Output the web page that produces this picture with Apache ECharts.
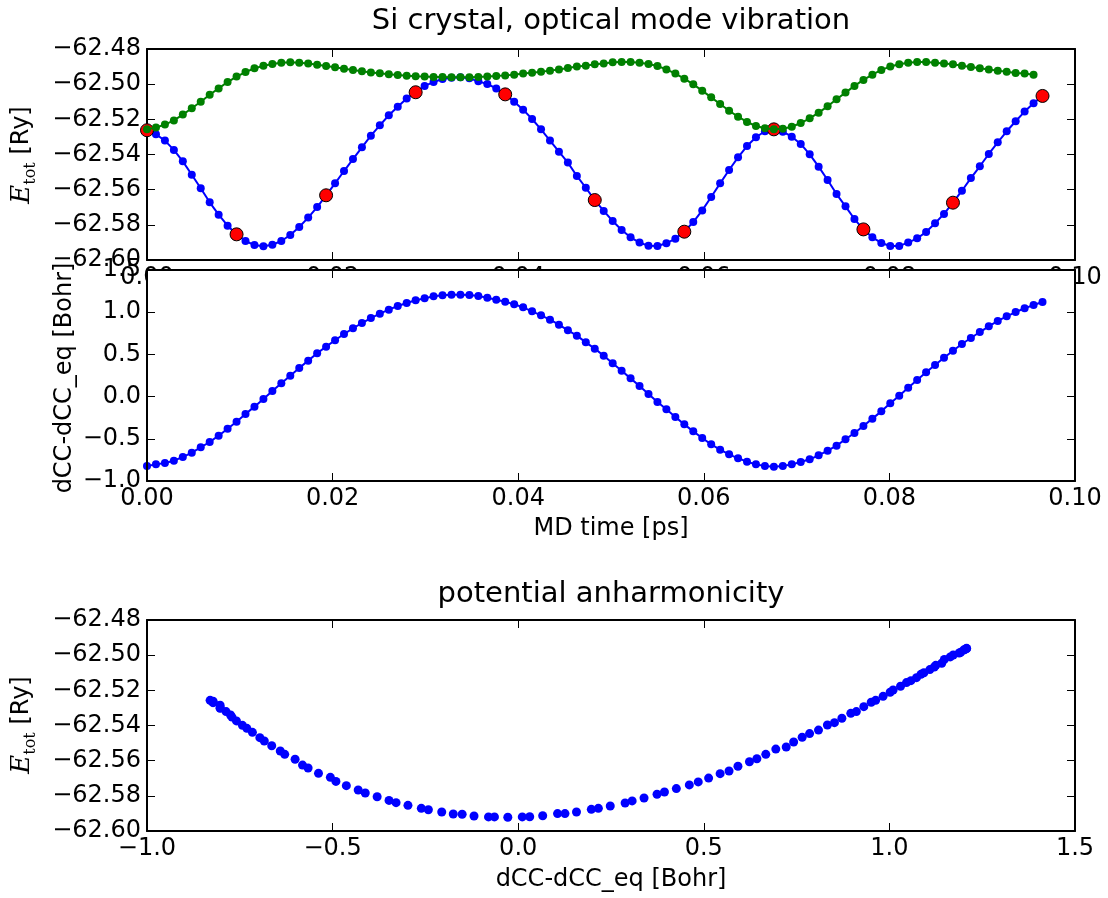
<!DOCTYPE html>
<html>
<head>
<meta charset="utf-8">
<script src="https://cdn.jsdelivr.net/npm/echarts@6/dist/echarts.min.js"></script>
<style>
html,body{margin:0;padding:0;background:#fff;}
#chart{width:1108px;height:898px;}
</style>
</head>
<body>
<div id="chart"></div>
<script>
// MD time [ps], one entry per MD step
const time = [0,0.000965,0.00193,0.002895,0.00386,0.004825,0.00579,0.006755,0.00772,0.008685,
0.00965,0.010615,0.01158,0.012545,0.01351,0.014475,0.01544,0.016405,0.01737,0.018335,
0.0193,0.020265,0.02123,0.022195,0.02316,0.024125,0.02509,0.026055,0.02702,0.027985,
0.02895,0.029915,0.03088,0.031845,0.03281,0.033775,0.03474,0.035705,0.03667,0.037635,
0.0386,0.039565,0.04053,0.041495,0.04246,0.043425,0.04439,0.045355,0.04632,0.047285,
0.04825,0.049215,0.05018,0.051145,0.05211,0.053075,0.05404,0.055005,0.05597,0.056935,
0.0579,0.058865,0.05983,0.060795,0.06176,0.062725,0.06369,0.064655,0.06562,0.066585,
0.06755,0.068515,0.06948,0.070445,0.07141,0.072375,0.07334,0.074305,0.07527,0.076235,
0.0772,0.078165,0.07913,0.080095,0.08106,0.082025,0.08299,0.083955,0.08492,0.085885,
0.08685,0.087815,0.08878,0.089745,0.09071,0.091675,0.09264,0.093605,0.09457,0.095535,
0.0965];

// E_tot (blue) [Ry]
const etotBlue = [-62.5262,-62.5285,-62.5321,-62.5374,-62.5439,-62.5515,-62.5592,-62.5672,-62.5742,-62.5805,
-62.5854,-62.5892,-62.5915,-62.5922,-62.5913,-62.5892,-62.5858,-62.5812,-62.5759,-62.5699,
-62.5632,-62.5564,-62.5494,-62.5426,-62.5359,-62.5293,-62.5234,-62.5177,-62.5128,-62.5082,
-62.5046,-62.5010,-62.4988,-62.4971,-62.4963,-62.4961,-62.4967,-62.4984,-62.4999,-62.5024,
-62.5058,-62.5100,-62.5145,-62.5198,-62.5257,-62.5321,-62.5384,-62.5446,-62.5522,-62.5589,
-62.5659,-62.5721,-62.5778,-62.5829,-62.5871,-62.5901,-62.5919,-62.5920,-62.5905,-62.5879,
-62.5839,-62.5784,-62.5718,-62.5642,-62.5564,-62.5488,-62.5416,-62.5352,-62.5302,-62.5268,
-62.5257,-62.5270,-62.5299,-62.5340,-62.5399,-62.5469,-62.5545,-62.5625,-62.5695,-62.5767,
-62.5826,-62.5871,-62.5903,-62.5920,-62.5920,-62.5901,-62.5877,-62.5841,-62.5791,-62.5738,
-62.5674,-62.5606,-62.5534,-62.5467,-62.5397,-62.5331,-62.5268,-62.5211,-62.5156,-62.5109,
-62.5067];

// second energy curve (green) [Ry]
const etotGreen = [-62.5257,-62.5246,-62.5230,-62.5206,-62.5173,-62.5137,-62.5100,-62.5060,-62.5024,-62.4988,
-62.4957,-62.4931,-62.4910,-62.4895,-62.4885,-62.4878,-62.4876,-62.4878,-62.4883,-62.4889,
-62.4897,-62.4904,-62.4912,-62.4919,-62.4927,-62.4933,-62.4938,-62.4944,-62.4948,-62.4952,
-62.4955,-62.4957,-62.4959,-62.4959,-62.4961,-62.4961,-62.4961,-62.4959,-62.4957,-62.4954,
-62.4950,-62.4946,-62.4940,-62.4935,-62.4929,-62.4923,-62.4916,-62.4908,-62.4900,-62.4895,
-62.4887,-62.4882,-62.4876,-62.4874,-62.4874,-62.4878,-62.4885,-62.4897,-62.4916,-62.4940,
-62.4969,-62.5001,-62.5037,-62.5075,-62.5113,-62.5151,-62.5185,-62.5215,-62.5238,-62.5251,
-62.5257,-62.5253,-62.5242,-62.5221,-62.5194,-62.5162,-62.5126,-62.5086,-62.5048,-62.5010,
-62.4976,-62.4946,-62.4919,-62.4900,-62.4887,-62.4878,-62.4874,-62.4874,-62.4878,-62.4882,
-62.4887,-62.4895,-62.4902,-62.4910,-62.4916,-62.4923,-62.4929,-62.4936,-62.4940,-62.4946];

// dCC - dCC_eq [Bohr]
const dcc = [-0.822,-0.803,-0.787,-0.759,-0.716,-0.664,-0.601,-0.538,-0.463,-0.380,
-0.297,-0.206,-0.119,-0.028,0.066,0.157,0.248,0.339,0.426,0.513,
0.592,0.667,0.742,0.809,0.872,0.931,0.983,1.030,1.073,1.109,
1.141,1.164,1.188,1.200,1.208,1.208,1.204,1.192,1.172,1.148,
1.125,1.093,1.058,1.010,0.963,0.911,0.852,0.785,0.722,0.643,
0.568,0.485,0.394,0.307,0.216,0.126,0.031,-0.064,-0.151,-0.242,
-0.329,-0.412,-0.491,-0.566,-0.629,-0.684,-0.731,-0.771,-0.803,-0.822,
-0.830,-0.822,-0.803,-0.775,-0.743,-0.696,-0.641,-0.581,-0.506,-0.431,
-0.348,-0.261,-0.175,-0.080,0.011,0.106,0.197,0.288,0.374,0.461,
0.544,0.623,0.694,0.765,0.833,0.896,0.951,1.002,1.046,1.085,
1.121];

// every 10th step is highlighted in red
const markEvery = 10;

// axis tick settings
const timeTicks = {min: 0, max: 0.1, interval: 0.02};
const energyTicks = {min: -62.6, max: -62.48, interval: 0.02};
const dccTicks = {min: -1.0, max: 1.5, interval: 0.5};

const FONT = "'DejaVu Sans', sans-serif";
const TICK_FS = 24;
const LABEL_FS = 24;
const TITLE_FS = 29;
const fmt = d => v => {
  let s = Math.abs(v) < 1e-9 ? (0).toFixed(d) : v.toFixed(d);
  return s.replace('-', '\u2212');
};

const chart = echarts.init(document.getElementById('chart'), null, {renderer: 'canvas'});

const grids = [
  {left: 147, right: 33, top: 49, height: 211},
  {left: 147, right: 33, top: 270, height: 211},
  {left: 147, right: 33, top: 620, height: 211}
].map(g => Object.assign({containLabel: false, outerBoundsMode: 'none', show: false}, g));

const lineCol = '#000';
function mkAxis(ticks, grid, pos, showLabel, decimals, z) {
  return Object.assign({
    type: 'value',
    gridIndex: grid,
    position: pos,
    z: z,
    scale: true,
    axisLine: {show: true, onZero: false, lineStyle: {color: lineCol, width: 2}},
    axisTick: {show: true, inside: true, length: 8, lineStyle: {color: lineCol, width: 1}},
    splitLine: {show: false},
    axisLabel: {
      show: showLabel,
      color: '#000',
      fontFamily: FONT,
      fontSize: TICK_FS,
      margin: 6,
      showMinLabel: true,
      showMaxLabel: true,
      hideOverlap: false,
      formatter: fmt(decimals)
    }
  }, ticks);
}

const xAxes = [
  mkAxis(timeTicks, 0, 'bottom', true, 2, 0),
  mkAxis(timeTicks, 0, 'top', false, 2, 0),
  mkAxis(timeTicks, 1, 'bottom', true, 2, 3),
  mkAxis(timeTicks, 1, 'top', false, 2, 3),
  mkAxis(dccTicks, 2, 'bottom', true, 1, 0),
  mkAxis(dccTicks, 2, 'top', false, 1, 0)
];
const yAxes = [
  mkAxis(energyTicks, 0, 'left', true, 2, 0),
  mkAxis(energyTicks, 0, 'right', false, 2, 0),
  mkAxis(dccTicks, 1, 'left', true, 1, 3),
  mkAxis(dccTicks, 1, 'right', false, 1, 3),
  mkAxis(energyTicks, 2, 'left', true, 2, 0),
  mkAxis(energyTicks, 2, 'right', false, 2, 0)
];

const blueTop = time.map((t, i) => [t, etotBlue[i]]);
const greenTop = etotGreen.map((e, i) => [time[i], e]);
const redTop = time.map((t, i) => [t, etotBlue[i]]).filter((_, i) => i % markEvery === 0);
const dccLine = time.map((t, i) => [t, dcc[i]]);
const potential = dcc.map((d, i) => [d, etotBlue[i]]);

const etotLabel = (x, y) => ({
  type: 'text', x: x, y: y, rotation: Math.PI / 2, z: 5,
  style: {
    text: '{e|E}{s|tot}{r| [Ry]}',
    textAlign: 'center', textVerticalAlign: 'middle',
    rich: {
      e: {fontFamily: "'DejaVu Serif', serif", fontStyle: 'italic', fontSize: 26, lineHeight: 34, verticalAlign: 'middle', fill: '#000'},
      s: {fontFamily: "'DejaVu Serif', serif", fontSize: 16, lineHeight: 14, verticalAlign: 'bottom', fill: '#000'},
      r: {fontFamily: FONT, fontSize: LABEL_FS, lineHeight: 34, verticalAlign: 'middle', fill: '#000'}
    }
  }
});
const plainText = (txt, x, y, size, rot) => ({
  type: 'text', x: x, y: y, rotation: rot || 0, z: 5,
  style: {text: txt, fontFamily: FONT, fontSize: size, fill: '#000', textAlign: 'center', textVerticalAlign: 'middle'}
});

chart.setOption({
  animation: false,
  backgroundColor: '#fff',
  grid: grids,
  xAxis: xAxes,
  yAxis: yAxes,
  graphic: [
    {type: 'rect', z: 1, shape: {x: 147, y: 270, width: 928, height: 211}, style: {fill: '#fff'}},
    plainText('Si crystal, optical mode vibration', 611, 21, TITLE_FS),
    plainText('potential anharmonicity', 611, 594, TITLE_FS),
    plainText('MD time [ps]', 611, 529, LABEL_FS),
    plainText('dCC-dCC_eq [Bohr]', 611, 880, LABEL_FS),
    plainText('dCC-dCC_eq [Bohr]', 65, 378, LABEL_FS, Math.PI / 2),
    etotLabel(22, 155),
    etotLabel(22, 725)
  ],
  series: [
    {
      type: 'line', xAxisIndex: 0, yAxisIndex: 0, data: blueTop, z: 2,
      symbol: 'circle', symbolSize: 8, showSymbol: true,
      lineStyle: {color: '#0000ff', width: 2},
      itemStyle: {color: '#0000ff', borderWidth: 0}
    },
    {
      type: 'scatter', xAxisIndex: 0, yAxisIndex: 0, data: redTop, z: 3,
      symbol: 'circle', symbolSize: 13,
      itemStyle: {color: '#ff0000', borderColor: '#000', borderWidth: 1, opacity: 1}
    },
    {
      type: 'line', xAxisIndex: 0, yAxisIndex: 0, data: greenTop, z: 4,
      symbol: 'circle', symbolSize: 8, showSymbol: true,
      lineStyle: {color: '#008000', width: 2},
      itemStyle: {color: '#008000', borderWidth: 0}
    },
    {
      type: 'line', xAxisIndex: 2, yAxisIndex: 2, data: dccLine, z: 2,
      symbol: 'circle', symbolSize: 8, showSymbol: true,
      lineStyle: {color: '#0000ff', width: 2},
      itemStyle: {color: '#0000ff', borderWidth: 0}
    },
    {
      type: 'scatter', xAxisIndex: 4, yAxisIndex: 4, data: potential, z: 2,
      symbol: 'circle', symbolSize: 9,
      itemStyle: {color: '#0000ff', borderWidth: 0, opacity: 1}
    }
  ]
});
</script>
</body>
</html>
